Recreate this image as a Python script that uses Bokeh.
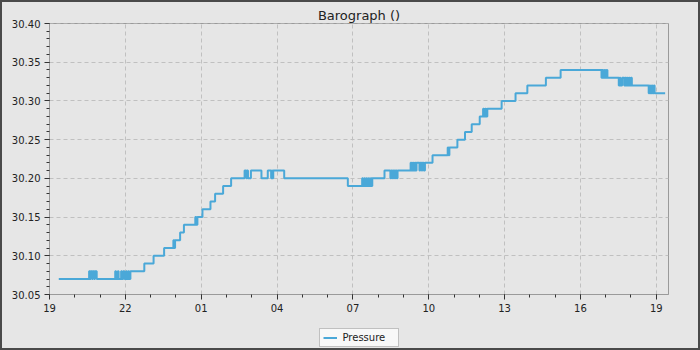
import pandas as pd
from bokeh.plotting import figure
from bokeh.layouts import column
from bokeh.models import (FixedTicker, DatetimeTickFormatter,
                          NumeralTickFormatter, Range1d, Legend, LegendItem)
from bokeh.embed import file_html
from bokeh.resources import INLINE

# ---- data (step series: value holds until next time) ----
times = [
    "2024-03-01 19:22", "2024-03-01 20:34", "2024-03-01 20:36", "2024-03-01 20:38",
    "2024-03-01 20:41", "2024-03-01 20:43", "2024-03-01 20:46", "2024-03-01 20:48",
    "2024-03-01 20:52", "2024-03-01 21:36", "2024-03-01 21:38", "2024-03-01 21:42",
    "2024-03-01 21:44", "2024-03-01 21:50", "2024-03-01 21:52", "2024-03-01 21:55",
    "2024-03-01 21:58", "2024-03-01 22:02", "2024-03-01 22:04", "2024-03-01 22:07",
    "2024-03-01 22:09", "2024-03-01 22:12", "2024-03-01 22:45", "2024-03-01 23:07",
    "2024-03-01 23:32", "2024-03-01 23:54", "2024-03-01 23:56", "2024-03-01 23:58",
    "2024-03-02 00:10", "2024-03-02 00:19", "2024-03-02 00:46", "2024-03-02 00:48",
    "2024-03-02 00:51", "2024-03-02 01:03", "2024-03-02 01:22", "2024-03-02 01:33",
    "2024-03-02 01:52", "2024-03-02 02:11", "2024-03-02 02:43", "2024-03-02 02:47",
    "2024-03-02 02:49", "2024-03-02 02:51", "2024-03-02 02:58", "2024-03-02 03:23",
    "2024-03-02 03:38", "2024-03-02 03:46", "2024-03-02 03:48", "2024-03-02 03:49",
    "2024-03-02 03:51", "2024-03-02 04:17", "2024-03-02 06:48", "2024-03-02 07:22",
    "2024-03-02 07:24", "2024-03-02 07:27", "2024-03-02 07:29", "2024-03-02 07:32",
    "2024-03-02 07:34", "2024-03-02 07:37", "2024-03-02 07:39", "2024-03-02 07:42",
    "2024-03-02 07:44", "2024-03-02 07:46", "2024-03-02 08:15", "2024-03-02 08:29",
    "2024-03-02 08:31", "2024-03-02 08:34", "2024-03-02 08:36", "2024-03-02 08:39",
    "2024-03-02 08:41", "2024-03-02 08:44", "2024-03-02 08:46", "2024-03-02 09:17",
    "2024-03-02 09:19", "2024-03-02 09:22", "2024-03-02 09:24", "2024-03-02 09:27",
    "2024-03-02 09:29", "2024-03-02 09:31", "2024-03-02 09:38", "2024-03-02 09:40",
    "2024-03-02 09:43", "2024-03-02 09:45", "2024-03-02 09:48", "2024-03-02 09:51",
    "2024-03-02 10:09", "2024-03-02 10:45", "2024-03-02 10:47", "2024-03-02 10:49",
    "2024-03-02 11:08", "2024-03-02 11:26", "2024-03-02 11:42", "2024-03-02 12:01",
    "2024-03-02 12:09", "2024-03-02 12:11", "2024-03-02 12:14", "2024-03-02 12:16",
    "2024-03-02 12:19", "2024-03-02 12:53", "2024-03-02 13:26", "2024-03-02 13:54",
    "2024-03-02 14:38", "2024-03-02 15:13", "2024-03-02 16:50", "2024-03-02 16:52",
    "2024-03-02 16:54", "2024-03-02 16:57", "2024-03-02 16:59", "2024-03-02 17:02",
    "2024-03-02 17:04", "2024-03-02 17:31", "2024-03-02 17:33", "2024-03-02 17:35",
    "2024-03-02 17:39", "2024-03-02 17:44", "2024-03-02 17:46", "2024-03-02 17:48",
    "2024-03-02 17:50", "2024-03-02 17:52", "2024-03-02 17:55", "2024-03-02 17:57",
    "2024-03-02 18:00", "2024-03-02 18:02", "2024-03-02 18:42", "2024-03-02 18:44",
    "2024-03-02 18:46", "2024-03-02 18:49", "2024-03-02 18:51", "2024-03-02 18:54",
    "2024-03-02 18:56", "2024-03-02 19:21",
]
pressure = [
    30.07, 30.08, 30.07, 30.08,
    30.07, 30.08, 30.07, 30.08,
    30.07, 30.08, 30.07, 30.08,
    30.07, 30.08, 30.07, 30.08,
    30.07, 30.08, 30.07, 30.08,
    30.07, 30.08, 30.09, 30.10,
    30.11, 30.12, 30.11, 30.12,
    30.13, 30.14, 30.15, 30.14,
    30.15, 30.16, 30.17, 30.18,
    30.19, 30.20, 30.21, 30.20,
    30.21, 30.20, 30.21, 30.20,
    30.21, 30.20, 30.21, 30.20,
    30.21, 30.20, 30.19, 30.20,
    30.19, 30.20, 30.19, 30.20,
    30.19, 30.20, 30.19, 30.20,
    30.19, 30.20, 30.21, 30.20,
    30.21, 30.20, 30.21, 30.20,
    30.21, 30.20, 30.21, 30.22,
    30.21, 30.22, 30.21, 30.22,
    30.21, 30.22, 30.21, 30.22,
    30.21, 30.22, 30.21, 30.22,
    30.23, 30.24, 30.23, 30.24,
    30.25, 30.26, 30.27, 30.28,
    30.29, 30.28, 30.29, 30.28,
    30.29, 30.30, 30.31, 30.32,
    30.33, 30.34, 30.33, 30.34,
    30.33, 30.34, 30.33, 30.34,
    30.33, 30.32, 30.33, 30.32,
    30.33, 30.32, 30.33, 30.32,
    30.33, 30.32, 30.33, 30.32,
    30.33, 30.32, 30.31, 30.32,
    30.31, 30.32, 30.31, 30.32,
    30.31, 30.31,
]
x_start = "2024-03-01 19:00"
x_end = "2024-03-02 19:29"
x_ticks = ["2024-03-01 19:00", "2024-03-01 22:00", "2024-03-02 01:00", "2024-03-02 04:00",
           "2024-03-02 07:00", "2024-03-02 10:00", "2024-03-02 13:00", "2024-03-02 16:00",
           "2024-03-02 19:00"]
y_ticks = [30.05, 30.10, 30.15, 30.20, 30.25, 30.30, 30.35, 30.40]
y_min, y_max = 30.05, 30.40
series_name = "Pressure"

t = pd.to_datetime(times)
to_ms = lambda s: pd.Timestamp(s).value / 1e6
major = [to_ms(s) for s in x_ticks]
minor = [m + k * 3600000 for m in major for k in (0, 1, 2)]
y_minor = [round(y_min + 0.01 * k, 2) for k in range(36)]

BG = "#e6e6e6"
FONT = "DejaVu Sans"
LINE = "#4aa8d8"

# ---- main chart ----
p = figure(width=696, height=318, output_backend="svg", toolbar_location=None,
           x_axis_type="datetime",
           x_range=Range1d(to_ms(x_start), to_ms(x_end)),
           y_range=Range1d(y_min, y_max + 1e-9),
           min_border_left=47, min_border_right=18, min_border_top=21, min_border_bottom=26)
p.background_fill_color = BG
p.border_fill_color = BG
p.outline_line_color = "#9a9a9a"
p.outline_line_width = 1

p.title.text = "Barograph ()"
p.title.align = "center"
p.title.text_font = FONT
p.title.text_font_size = "13px"
p.title.text_font_style = "normal"
p.title.text_color = "#222222"
p.title.standoff = 2

p.step(t, pressure, mode="after", line_color=LINE, line_width=2)

p.xaxis.ticker = FixedTicker(ticks=major, minor_ticks=minor)
p.xaxis.formatter = DatetimeTickFormatter(hours="%H", days="%H", hourmin="%H")
p.yaxis.ticker = FixedTicker(ticks=y_ticks, minor_ticks=y_minor)
p.yaxis.formatter = NumeralTickFormatter(format="0.00")

for ax in (p.xaxis[0], p.yaxis[0]):
    ax.axis_line_color = "#9a9a9a"
    ax.major_tick_line_color = "#333333"
    ax.minor_tick_line_color = "#333333"
    ax.major_tick_out = 5
    ax.major_tick_in = 0
    ax.minor_tick_out = 3
    ax.minor_tick_in = 0
    ax.major_label_text_font = FONT
    ax.major_label_text_font_size = "10px"
    ax.major_label_text_color = "#222222"
    ax.major_label_standoff = 4

for g in (p.xgrid[0], p.ygrid[0]):
    g.grid_line_color = "#c0c0c0"
    g.grid_line_dash = "4 3"
    g.grid_line_width = 1

# ---- legend strip: same series and style, its line kept outside the strip's view ----
q = figure(width=696, height=28, output_backend="svg", toolbar_location=None,
           x_range=p.x_range, y_range=Range1d(0, 1),
           x_axis_location=None, y_axis_location=None,
           min_border=0, min_border_left=0, min_border_right=30,
           min_border_top=0, min_border_bottom=0)
q.background_fill_color = BG
q.border_fill_color = BG
q.outline_line_color = None
q.grid.visible = False
r = q.step(t, pressure, mode="after", line_color=LINE, line_width=2)

legend = Legend(items=[LegendItem(label=series_name, renderers=[r])],
                location="bottom_center", orientation="horizontal",
                label_text_font=FONT, label_text_font_size="10px",
                label_text_color="#222222",
                background_fill_color="#f8f8f8", background_fill_alpha=1,
                border_line_color="#888888",
                glyph_width=14, glyph_height=11, label_height=11, label_width=52,
                label_standoff=6, padding=3, margin=1, spacing=0)
q.add_layout(legend, "center")

layout = column(p, q, spacing=0)
layout.styles = {"border": "2px solid #4a4a4a", "background-color": BG}

open("out.html", "w").write(file_html(layout, INLINE))
